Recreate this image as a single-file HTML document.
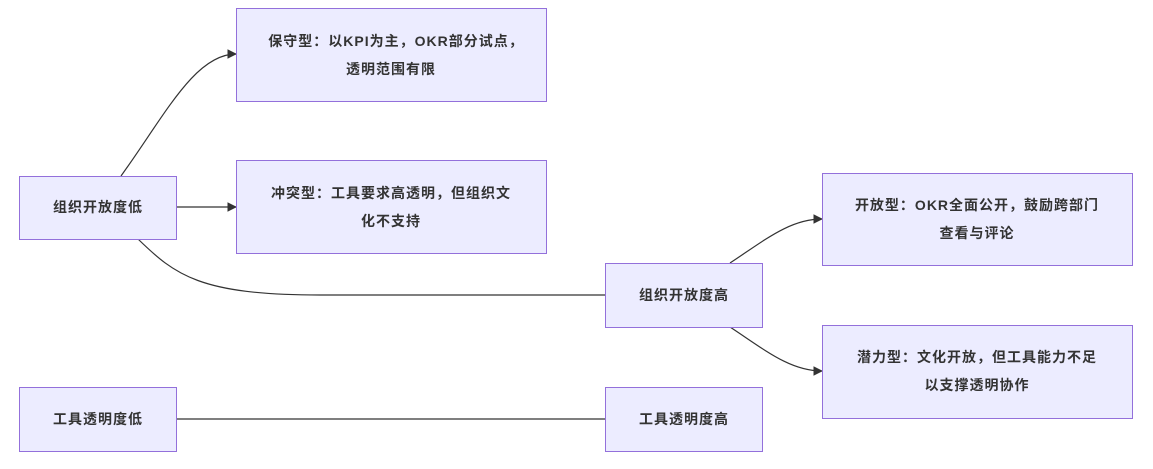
<!DOCTYPE html>
<html><head><meta charset="utf-8"><style>
body{margin:0;background:#fff;width:1153px;height:464px;overflow:hidden}
svg text{font-family:"Liberation Sans","Noto Sans CJK SC",sans-serif;font-size:14px;letter-spacing:1px;fill:#333;text-anchor:middle;font-weight:bold}
rect{fill:#ececff;stroke:#9370db;stroke-width:1}
path{fill:none;stroke:#333;stroke-width:1.2}
</style></head><body>
<svg width="1153" height="464" xmlns="http://www.w3.org/2000/svg">
<defs><marker id="a" viewBox="0 0 10 10" refX="9" refY="5" markerWidth="8" markerHeight="8" orient="auto"><path d="M0,0L10,5L0,10z" style="fill:#333;stroke:none"/></marker></defs>
<path d="M121,176 C165,115 195,54 236,54" marker-end="url(#a)"/>
<path d="M177,207 L236,207" marker-end="url(#a)"/>
<path d="M138,239 C175,275 200,295 320,295 L605,295"/>
<path d="M730,263 C765,240 790,219 822,219" marker-end="url(#a)"/>
<path d="M730,327 C765,350 790,371 822,371" marker-end="url(#a)"/>
<path d="M177,419 L605,419"/>
<rect x="19.5" y="176.5" width="157" height="63"/><text x="98" y="212">组织开放度低</text>
<rect x="236.5" y="8.5" width="310" height="93"/><text x="396" y="46">保守型：以KPI为主，OKR部分试点，</text><text x="391" y="74">透明范围有限</text>
<rect x="236.5" y="160.5" width="310" height="93"/><text x="391" y="198">冲突型：工具要求高透明，但组织文</text><text x="391" y="226">化不支持</text>
<rect x="605.5" y="263.5" width="157" height="64"/><text x="684" y="300">组织开放度高</text>
<rect x="822.5" y="173.5" width="310" height="92"/><text x="977" y="210">开放型：OKR全面公开，鼓励跨部门</text><text x="977" y="238">查看与评论</text>
<rect x="822.5" y="325.5" width="310" height="93"/><text x="977" y="362">潜力型：文化开放，但工具能力不足</text><text x="977" y="390">以支撑透明协作</text>
<rect x="19.5" y="387.5" width="157" height="64"/><text x="98" y="424">工具透明度低</text>
<rect x="605.5" y="387.5" width="157" height="64"/><text x="684" y="424">工具透明度高</text>
</svg>
</body></html>
